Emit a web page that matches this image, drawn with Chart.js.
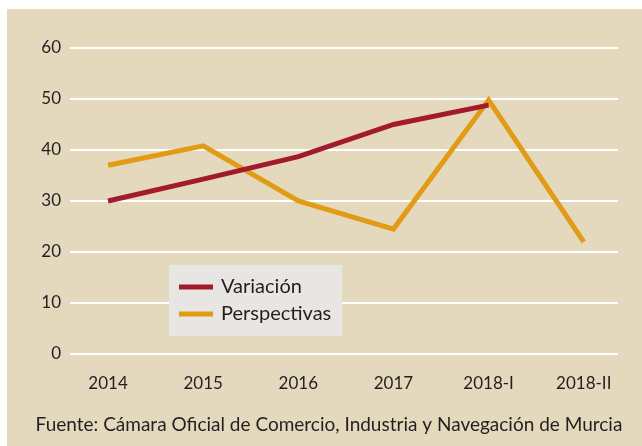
<!DOCTYPE html>
<html>
<head>
<meta charset="utf-8">
<script src="https://cdn.jsdelivr.net/npm/chart.js@4"></script>
<style>
  html, body { margin: 0; padding: 0; background: #ffffff; }
  .chart-container { position: absolute; left: 7px; top: 9px; width: 635px; height: 437px; background: #E4D9BD; }
</style>
</head>
<body>
<div class="chart-container">
  <canvas id="chart" width="635" height="437"></canvas>
</div>
<script>
// categorias y series
const categorias = ['2014', '2015', '2016', '2017', '2018-I', '2018-II'];
const variacion = [30, 34.3, 38.7, 45, 48.8, null];
const perspectivas = [37, 40.8, 30, 24.5, 49.8, 22];
const yTicks = [0, 10, 20, 30, 40, 50, 60];
const fuente = 'Fuente: Cámara Oficial de Comercio, Industria y Navegación de Murcia';

const FONT = 'Lato, "Open Sans", sans-serif';
const TEXT = '#231F20';

// leyenda dentro del area del grafico, con fondo gris, y fuente al pie
const legendBox = {
  id: 'legendBox',
  afterDatasetsDraw(chart) {
    const ctx = chart.ctx;
    ctx.save();
    ctx.fillStyle = '#E7E6E2';
    ctx.fillRect(162, 256, 173, 71);
    chart.data.datasets.forEach((ds, i) => {
      const y = 278 + i * 27;
      ctx.strokeStyle = ds.borderColor;
      ctx.lineWidth = 5;
      ctx.beginPath();
      ctx.moveTo(172, y);
      ctx.lineTo(206, y);
      ctx.stroke();
      ctx.fillStyle = TEXT;
      ctx.font = '20px ' + FONT;
      ctx.textBaseline = 'middle';
      ctx.fillText(ds.label, 214, y);
    });
    // fuente
    ctx.font = '19px ' + FONT;
    ctx.fillStyle = TEXT;
    ctx.textAlign = 'center';
    ctx.textBaseline = 'middle';
    ctx.fillText(fuente, 322, 416);
    ctx.restore();
  }
};

const ctx = document.getElementById('chart').getContext('2d');
new Chart(ctx, {
  type: 'line',
  data: {
    datasets: [
      {
        label: 'Variación',
        data: variacion.map((v, i) => ({ x: i, y: v })),
        borderColor: '#A31A2C',
        borderWidth: 5,
        pointRadius: 0,
        tension: 0
      },
      {
        label: 'Perspectivas',
        data: perspectivas.map((v, i) => ({ x: i, y: v })),
        borderColor: '#E19B14',
        borderWidth: 5,
        pointRadius: 0,
        tension: 0
      }
    ]
  },
  options: {
    responsive: false,
    animation: false,
    layout: { padding: { top: 39, right: 24, bottom: 42, left: 0 } },
    plugins: {
      legend: { display: false },
      tooltip: { enabled: false },
      title: { display: false }
    },
    scales: {
      x: {
        type: 'linear',
        min: -0.4,
        max: 5.36,
        afterBuildTicks: (scale) => { scale.ticks = categorias.map((c, i) => ({ value: i })); },
        afterFit: (scale) => { scale.height = 50; },
        ticks: {
          callback: (v) => categorias[v],
          color: TEXT,
          font: { family: FONT, size: 17 },
          padding: 11,
          maxRotation: 0
        },
        grid: { display: false },
        border: { display: false }
      },
      y: {
        min: 0,
        max: 60,
        afterBuildTicks: (scale) => { scale.ticks = yTicks.map(v => ({ value: v })); },
        afterFit: (scale) => { scale.width = 63; },
        ticks: {
          color: TEXT,
          font: { family: FONT, size: 17 },
          padding: 9
        },
        grid: { color: '#ffffff', lineWidth: 2, drawTicks: false },
        border: { display: false }
      }
    }
  },
  plugins: [legendBox]
});
</script>
</body>
</html>
